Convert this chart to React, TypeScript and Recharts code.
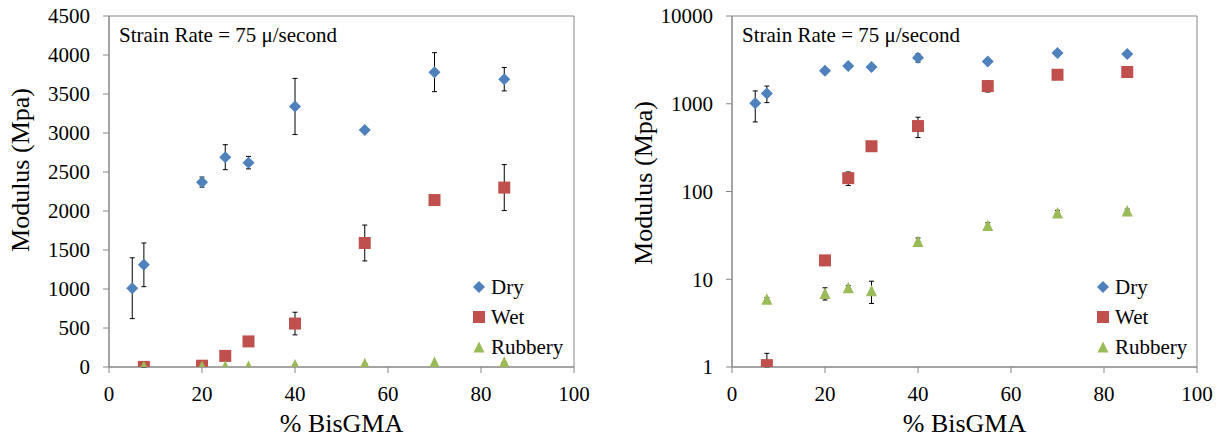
import React from 'react';
import {
  ScatterChart,
  Scatter,
  XAxis,
  YAxis,
  ErrorBar,
  ReferenceArea,
  Legend,
} from 'recharts';

// % BisGMA for each measured formulation
const dryBisGMA = [5, 7.5, 20, 25, 30, 40, 55, 70, 85];
const wetBisGMA = [7.5, 20, 25, 30, 40, 55, 70, 85];
const rubberyBisGMA = [7.5, 20, 25, 30, 40, 55, 70, 85];

// modulus (MPa) and standard deviation
const dryModulus = [1010, 1310, 2370, 2690, 2620, 3340, 3040, 3780, 3690];
const dryError = [390, 280, 65, 160, 80, 360, 20, 250, 150];
const wetModulus = [1.05, 16.4, 142, 328, 557, 1590, 2140, 2300];
const wetError = [0.38, 1.2, 25, 15, 145, 230, 20, 295];
const rubberyModulus = [5.9, 6.9, 8.0, 7.4, 27, 41, 57, 60];
const rubberyError = [0.3, 1.1, 0.5, 2.1, 2.5, 3, 4, 3];

const seriesNames = ['Dry', 'Wet', 'Rubbery'];
const xTicks = [0, 20, 40, 60, 80, 100];
const linearTicks = [0, 500, 1000, 1500, 2000, 2500, 3000, 3500, 4000, 4500];
const logTicks = [1, 10, 100, 1000, 10000];

const FONT = '"Liberation Serif", "Times New Roman", serif';
const AXIS = '#868686';
const BLUE = '#4F81BD';
const RED = '#C0504D';
const GREEN = '#9BBB59';

interface Point {
  x: number;
  y: number;
  err: number | [number, number];
}

const build = (xs: number[], ys: number[], errs: number[], log: boolean): Point[] =>
  xs.map((x, i) => ({
    x,
    y: ys[i],
    // on the log axis keep the lower whisker above the axis floor
    err: log ? [Math.min(errs[i], ys[i] - 1), errs[i]] : errs[i],
  }));

const Diamond = (p: any) => (
  <polygon
    points={`${p.cx},${p.cy - 6} ${p.cx + 6},${p.cy} ${p.cx},${p.cy + 6} ${p.cx - 6},${p.cy}`}
    fill={BLUE}
  />
);
const Square = (p: any) => <rect x={p.cx - 6} y={p.cy - 6} width={12} height={12} fill={RED} />;
const Triangle = (p: any) => (
  <polygon
    points={`${p.cx},${p.cy - 6} ${p.cx + 5.5},${p.cy + 5.5} ${p.cx - 5.5},${p.cy + 5.5}`}
    fill={GREEN}
  />
);
const NoMark = () => <g />;

const legendIcon = (name: string) => {
  if (name === 'Dry') return <polygon points="7,9 13,15 7,21 1,15" fill={BLUE} />;
  if (name === 'Wet') return <rect x={1} y={9} width={12} height={12} fill={RED} />;
  return <polygon points="7,9.5 12.5,20.5 1.5,20.5" fill={GREEN} />;
};

const LegendBox = () => (
  <div style={{ fontFamily: FONT, fontSize: 21, color: '#000' }}>
    {seriesNames.map((name) => (
      <div key={name} style={{ display: 'flex', alignItems: 'center', height: 30 }}>
        <svg width={14} height={30}>{legendIcon(name)}</svg>
        <span style={{ marginLeft: 5, lineHeight: '30px' }}>{name}</span>
      </div>
    ))}
  </div>
);

interface PanelProps {
  log: boolean;
  left: number;
  width: number;
  marginLeft: number;
  marginRight: number;
  titleX: number;
  titleY: number;
  legendLeft: number;
}

const Panel: React.FC<PanelProps> = ({ log, left, width, marginLeft, marginRight, titleX, titleY, legendLeft }) => {
  const dry = build(dryBisGMA, dryModulus, dryError, log);
  const wet = build(wetBisGMA, wetModulus, wetError, log);
  const rubbery = build(rubberyBisGMA, rubberyModulus, rubberyError, log);
  const tickStyle = { fontFamily: FONT, fontSize: 21, fill: '#000' };
  const yMin = log ? 1 : 0;
  const yMax = log ? 10000 : 4500;
  const whisker = <ErrorBar dataKey="err" direction="y" width={2.5} stroke="#000" strokeWidth={1} />;

  return (
    <div style={{ position: 'absolute', left, top: 0, fontFamily: FONT }}>
      <ScatterChart
        width={width}
        height={439}
        margin={{ top: 16, right: marginRight, bottom: 12, left: marginLeft }}
      >
        <XAxis
          type="number"
          dataKey="x"
          domain={[0, 100]}
          ticks={xTicks}
          tick={tickStyle}
          tickSize={6}
          tickMargin={13}
          height={60}
          axisLine={{ stroke: AXIS }}
          tickLine={{ stroke: AXIS }}
          label={{
            content: (p: any) => (
              <text
                x={p.viewBox.x + p.viewBox.width / 2}
                y={432}
                textAnchor="middle"
                fontFamily={FONT}
                fontSize={26}
                fill="#000"
              >
                % BisGMA
              </text>
            ),
          }}
        />
        <YAxis
          type="number"
          dataKey="y"
          scale={log ? 'log' : 'linear'}
          domain={[yMin, yMax]}
          ticks={log ? logTicks : linearTicks}
          allowDataOverflow
          tick={tickStyle}
          tickSize={6}
          tickMargin={13}
          width={70}
          axisLine={{ stroke: AXIS }}
          tickLine={{ stroke: AXIS }}
          label={{
            content: () => (
              <text
                x={titleX}
                y={titleY}
                transform={`rotate(-90 ${titleX} ${titleY})`}
                textAnchor="middle"
                fontFamily={FONT}
                fontSize={26}
                fill="#000"
              >
                Modulus (Mpa)
              </text>
            ),
          }}
        />
        <ReferenceArea
          x1={0}
          x2={100}
          y1={yMin}
          y2={yMax}
          fill="none"
          stroke={AXIS}
          strokeWidth={1}
          label={{
            content: (p: any) => (
              <text x={p.viewBox.x + 10} y={p.viewBox.y + 26} fontFamily={FONT} fontSize={21} fill="#000">
                Strain Rate = 75 μ/second
              </text>
            ),
          }}
        />
        <Legend
          layout="vertical"
          align="center"
          verticalAlign="middle"
          content={<LegendBox />}
          wrapperStyle={{ position: 'absolute', left: legendLeft, top: 272, width: 140, height: 90 }}
        />
        {/* whiskers first so the markers sit on top of them */}
        <Scatter name="Dry error" data={dry} shape={NoMark} legendType="none" isAnimationActive={false}>
          {whisker}
        </Scatter>
        <Scatter name="Wet error" data={wet} shape={NoMark} legendType="none" isAnimationActive={false}>
          {whisker}
        </Scatter>
        <Scatter name="Rubbery error" data={rubbery} shape={NoMark} legendType="none" isAnimationActive={false}>
          {whisker}
        </Scatter>
        <Scatter name="Dry" data={dry} fill={BLUE} shape={Diamond} isAnimationActive={false} />
        <Scatter name="Wet" data={wet} fill={RED} shape={Square} isAnimationActive={false} />
        <Scatter name="Rubbery" data={rubbery} fill={GREEN} shape={Triangle} isAnimationActive={false} />
      </ScatterChart>
    </div>
  );
};

export default function App() {
  return (
    <div style={{ position: 'absolute', left: 0, top: 0, width: 1225, height: 439, background: '#fff' }}>
      <Panel log={false} left={0} width={612} marginLeft={39} marginRight={38} titleX={29} titleY={170} legendLeft={472} />
      <Panel log left={620} width={605} marginLeft={42} marginRight={28} titleX={32} titleY={183} legendLeft={476} />
    </div>
  );
}
